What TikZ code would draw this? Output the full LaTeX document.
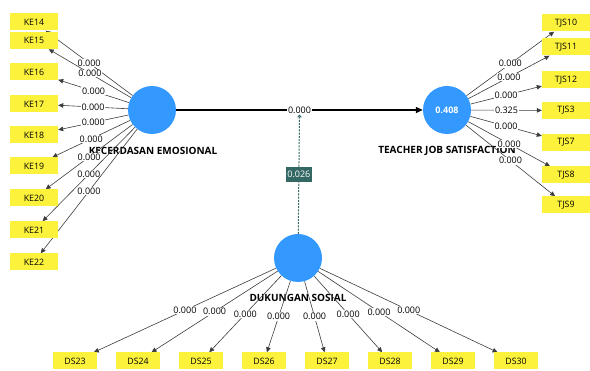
\documentclass[tikz,border=0pt]{standalone}
\usepackage{fontspec}
\setmainfont{Open Sans}
\usetikzlibrary{arrows.meta,backgrounds}
\definecolor{lvblue}{RGB}{51,153,255}
\definecolor{indyel}{RGB}{252,242,60}
\definecolor{modteal}{RGB}{52,104,100}
\definecolor{linegray}{RGB}{60,60,60}
\begin{document}
\begin{tikzpicture}[x=1pt,y=-1pt,
  lv/.style={circle,fill=lvblue,minimum size=48pt,inner sep=0},
  ind/.style={fill=indyel,minimum width=48pt,minimum height=17pt,inner sep=0,font=\fontsize{8.8}{10}\selectfont},
  dsind/.style={ind,minimum width=44pt},
  ttl/.style={font=\fontsize{10}{12}\selectfont\bfseries},
  wt/.style={fill=white,inner sep=0.6pt,font=\fontsize{9}{10}\selectfont},
  ld/.style={draw=linegray,line width=0.6pt,-{Triangle[length=5pt,width=4.5pt]}},
  mainpath/.style={draw=black,line width=1.3pt,-{Triangle[length=7pt,width=6pt]}},
  modpath/.style={draw=modteal,line width=1pt,dash pattern=on 2pt off 1.2pt,-{Straight Barb[length=2pt,width=3.5pt]}},
  modlbl/.style={fill=modteal,text=white,inner sep=1.5pt,minimum height=15pt,font=\fontsize{9}{10}\selectfont},
]
\useasboundingbox (0,0) rectangle (590,371);
% latent variables
\node[lv] (ke) at (152,110) {};
\node[lv,text=white,font=\fontsize{9}{10}\selectfont\bfseries] (tjs) at (447,110) {0.408};
\node[lv] (ds) at (298,258) {};
% indicators
\foreach \n/\y in {14/22,15/40.5,16/72,17/104,18/135,19/166,20/198,21/230,22/262}
  \node[ind] (ke\n) at (34,\y) {KE\n};
\foreach \n/\y in {10/23,11/47,12/80,3/110.5,7/142.5,8/175,9/205}
  \node[ind] (tjs\n) at (566,\y) {TJS\n};
\foreach \n/\x in {23/75,24/138,25/201,26/264,27/327,28/390,29/453,30/516}
  \node[dsind] (ds\n) at (\x,361) {DS\n};
\begin{scope}[on background layer]
  \node[ttl] (keT) at (153,151) {KECERDASAN EMOSIONAL};
  \node[ttl] (tjsT) at (447,151) {TEACHER JOB SATISFACTION};
  \node[ttl] (dsT) at (298,298) {DUKUNGAN SOSIAL};
  \foreach \n in {14,...,22}
    \draw[ld] (ke) -- node[wt] {0.000} (ke\n);
  \foreach \n/\w in {10/0.000,11/0.000,12/0.000,3/0.325,7/0.000,8/0.000,9/0.000}
    \draw[ld] (tjs) -- node[wt] {\w} (tjs\n);
  \foreach \n in {23,...,30}
    \draw[ld] (ds) -- node[wt] {0.000} (ds\n);
  \draw[mainpath] (ke) -- node[wt] (mainlbl) {0.000} (tjs);
  \draw[modpath] (ds) -- node[modlbl] (modw) {0.026} (mainlbl.south);
\end{scope}
\end{tikzpicture}
\end{document}
